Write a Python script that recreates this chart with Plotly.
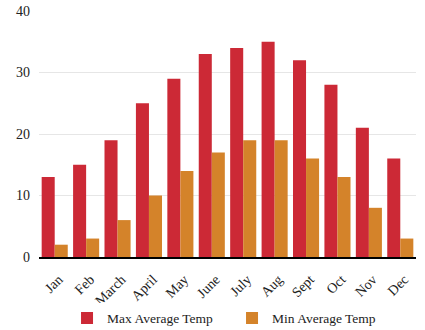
import plotly.graph_objects as go

months = ["Jan", "Feb", "March", "April", "May", "June", "July", "Aug", "Sept", "Oct", "Nov", "Dec"]
max_temp = [13, 15, 19, 25, 29, 33, 34, 35, 32, 28, 21, 16]
min_temp = [2, 3, 6, 10, 14, 17, 19, 19, 16, 13, 8, 3]

fig = go.Figure()
fig.add_trace(go.Bar(x=months, y=max_temp, name="Max Average Temp", marker_color="#CC2936", marker_line_width=0))
fig.add_trace(go.Bar(x=months, y=min_temp, name="Min Average Temp", marker_color="#D4832A", marker_line_width=0))

fig.update_layout(
    width=425, height=330,
    margin=dict(l=39, r=9, t=11, b=73, autoexpand=False),
    barmode="group", bargap=0.17, bargroupgap=0,
    plot_bgcolor="white", paper_bgcolor="white",
    font=dict(family="Liberation Serif", size=14, color="#222"),
    showlegend=True,
    legend=dict(orientation="h", x=0.512, xanchor="center", yref="container", y=0.036, yanchor="middle",
                font=dict(size=13.5), itemwidth=30, tracegroupgap=0,
                entrywidth=120, entrywidthmode="pixels"),
    xaxis=dict(tickangle=-45, showline=True, linecolor="black", linewidth=1.5, ticks="", showgrid=False,
               automargin=False, ticklabelstandoff=7, ticklabelshift=4),
    yaxis=dict(range=[0, 40], dtick=10, showgrid=True, gridcolor="#e6e6e6", zeroline=False, ticks="",
               ticklabelstandoff=8, automargin=False),
)
fig.write_html("out.html")
